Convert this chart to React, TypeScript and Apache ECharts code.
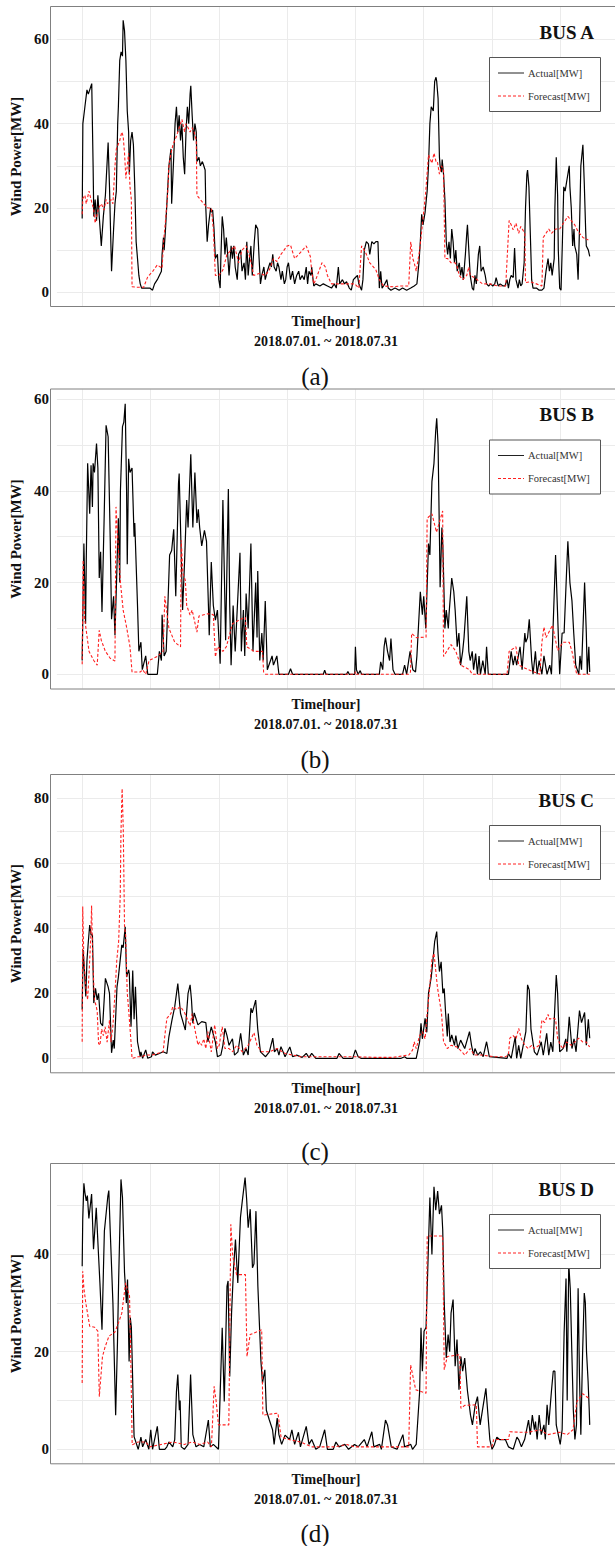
import React, { useEffect, useRef } from "react";
import * as echarts from "echarts";

const SERIF = '"Liberation Serif", "Times New Roman", Times, serif';

// [hour since 2018-07-01 00:00, MW]
const busAActual: [number, number][] = [[0,17.5],[1,40],[4,44],[7,48],[9,47],[14,49.5],[16,30],[17,18],[19,22],[21,17],[23,23],[25,18],[28,11],[31,18],[34,23],[38,35.5],[40,25],[43,5],[46,15],[48,21],[50,24],[52,40],[53,44],[55,55],[57,57],[59,56],[60,64.5],[62,62],[64,55],[66,43],[68,38],[69,28],[71,36],[73,38],[75,35],[77,25],[79,12],[83,4],[85,2],[87,1],[93,1],[99,1],[103,0.5],[106,2],[110,3],[113,4],[116,5],[117,9],[119,13],[120,10],[122,15],[125,24],[127,30],[130,34],[131,21],[134,32],[136,40],[138,44],[140,38],[142,42],[144,36],[146,40],[148,32],[150,28],[152,38],[154,44],[156,40],[158,47],[159,49],[161,42],[163,36],[165,40],[167,38],[168,31],[171,32],[173,30],[176,31],[178,30],[180,29],[181,20],[183,12],[185,16],[188,20],[189,19],[191,19.5],[193,15],[195,8],[198,9],[200,3],[202,1],[203,8],[205,18],[207,15],[209,9],[211,13],[213,9],[215,4],[218,11],[220,8],[222,11],[224,6],[227,3],[229,9],[232,10],[234,5],[237,7],[239,3],[241,12],[243,4],[245,8],[247,11],[249,4],[252,12],[254,16],[257,15],[259,8],[261,2],[263,4],[266,6],[268,3],[271,5],[275,7],[277,6],[279,9],[281,6],[284,5],[286,7],[288,6],[291,3],[293,5],[296,2],[298,3],[300,6],[302,7],[305,3],[308,5],[311,2],[314,4],[317,5],[319,3],[322,4],[325,3],[328,6],[330,2],[332,5],[335,4],[336,6],[339,1.5],[342,2],[348,1.5],[353,2],[359,1.5],[365,1],[369,2],[372,1],[375,6],[377,2],[381,3],[384,2],[387,2.5],[391,1],[394,0.5],[397,3],[400,3.5],[403,4],[405,2],[409,0.5],[411,3],[413,10],[416,12],[419,11.5],[421,9],[424,12],[427,11.5],[430,12],[433,12],[435,1],[437,5],[439,1],[443,2],[446,3],[448,1],[452,0.5],[458,1],[464,0.5],[469,1],[475,0.5],[481,1],[486,1.5],[490,2],[493,7],[495,12],[497,18.5],[499,16],[502,19],[505,24],[507,30],[509,40],[511,44],[514,43],[516,50],[518,51],[519,50],[521,46],[523,32],[524,30],[526,28.5],[527,31.5],[529,28],[531,22],[532,17],[533,12],[535,9],[537,12],[539,8],[541,15],[543,12],[545,7],[547,10],[549,5],[552,7],[554,4],[556,6],[558,3],[561,9],[563,14],[564,16],[566,10],[568,4],[571,1],[573,0.5],[575,4],[577,2],[580,9],[582,11],[584,5],[587,6],[590,4],[592,2],[595,1.5],[598,2],[601,1.5],[604,2],[606,3.5],[609,1.5],[612,2],[616,1.5],[619,1.5],[622,3],[624,1],[626,3],[628,4],[631,3.5],[633,10.5],[635,3],[638,1],[640,3],[642,1.5],[644,2],[647,7],[649,20],[651,28],[652,29],[654,25],[656,14],[658,3],[660,1],[665,1],[669,0.5],[673,0.5],[676,1],[679,5],[682,8],[684,5],[686,7],[688,4],[691,8],[692,20],[694,32],[696,23],[697,10],[699,1],[701,0.5],[703,12],[705,25],[707,24],[709,26],[711,28],[713,30],[714,25],[716,20],[718,11],[720,15],[721,11],[724,9],[726,3],[728,15],[730,30],[733,35],[735,26],[737,15],[738,11],[741,10],[743,8.5]];

const busAForecast: [number, number][] = [[0,18.5],[1,22.3],[4,23],[6,21],[10,24],[13,22],[17,19.5],[19,16.4],[24,20],[28,21],[32,19.5],[35,22],[37,21],[42,22],[45,21],[48,30],[50,34],[55,36],[58,38],[60,37],[62,33],[64,27],[66,30],[68,33],[70,25],[72,22],[73,1.3],[80,1.2],[90,1.2],[96,3.7],[103,4.9],[110,6.5],[117,5.7],[119,11.6],[122,17],[125,23],[127,30],[130,33],[133,35],[138,37],[144,40],[146,41],[150,38],[152,40],[155,39],[158,38],[161,39],[164,38],[167,36],[168,23],[173,22],[178,21],[184,20],[189,20],[192,15],[195,4],[200,4],[206,5.3],[212,9],[218,10],[223,11],[229,7],[234,10],[240,11],[246,8],[251,4],[260,4.5],[268,4],[274,5.3],[280,8],[285,7.3],[291,9],[300,11],[305,11.2],[311,8],[317,9],[328,11],[334,8.5],[336,5],[339,2],[342,3],[351,7],[356,6],[359,4],[365,2],[376,2],[387,2],[399,2],[405,1],[409,11],[413,10],[416,9],[421,7],[430,5.3],[435,3],[441,1.5],[455,1.3],[466,1.5],[478,1.5],[481,12],[484,8],[486,7],[489,5],[494,10],[498,16],[500,19],[503,24],[507,32.6],[512,30.6],[515,33],[518,31],[520,31],[523,28],[526,30],[529,29],[531,8],[535,8],[540,7],[546,7],[549,6],[552,4],[557,3],[563,4],[566,6],[568,4],[574,3.5],[586,2],[597,2],[608,1.5],[620,1.5],[625,17],[628,16],[631,14.8],[635,16.4],[639,14],[642,15.6],[648,14],[649,2.3],[656,2.5],[665,2],[673,1.5],[675,13],[679,14],[683,15],[687,14],[693,15],[699,15],[707,17],[711,18],[716,17],[721,16],[726,14.4],[733,13],[741,12.4]];

const busBActual: [number, number][] = [[0,3],[2.5,28.5],[5,11],[6,25],[8,46],[11,35],[13,45.6],[15,36.5],[16,46],[18,44],[21,50.3],[23,45],[25,21],[27,26.7],[29,13.6],[32,33],[35,54.3],[38,51.8],[41,30],[43,12],[46,17],[48,8.5],[53,34],[55,20],[56,40],[59,54],[61,55],[63,59],[65,40],[66,24],[68,47],[70,44],[73,45],[76,30],[77,33],[81,15],[83,5],[86,7],[88,1],[93,4],[96,0],[110,0],[113,5],[116,3],[117,13],[120,4],[123,5],[125,13],[128,26],[131,27],[134,31.6],[137,17],[141,41.6],[142,43.8],[145,26],[147,14],[150,25],[153,38],[155,32],[159,48],[162,32],[165,44],[168,33],[170,36],[172,32],[175,28],[179,31.4],[182,29],[185,14],[186,8.5],[189,24.5],[192,15],[195,11.8],[198,14],[202,2.3],[206,38],[210,7.4],[214,40.4],[216,15],[218,2],[221,15],[224,5],[231,26.5],[233,5],[236,14],[238,4],[240,17.6],[243,10],[247,28.5],[250,5],[254,20],[256,8],[257,22.5],[260,3],[263,9],[265,3],[268,16],[271,1],[278,4],[280,2],[285,4],[288,0],[302,0],[305,1.2],[308,0],[353,0],[355,0.9],[357,0],[387,0],[389,0.6],[391,0],[399,0],[400,6],[401.5,1],[404,0],[407,0.8],[409,0],[435,0],[437,2.7],[440,1],[442,6],[444,8],[447,5],[450,3],[452,7.8],[455,1],[458,0],[469,0],[472,2],[475,0],[480,5],[484,1],[488,0.5],[490,4],[495,18],[498,13],[500,17],[503,10],[507,28.5],[509,26],[512,42],[515,46],[517.5,53],[519,55.8],[521,50],[523,30],[524,19],[526.6,32],[528,28],[531,10],[533,14],[536,10],[537,13],[541,21],[544,18],[546,14],[549,6],[551.5,9],[554,2],[557,5],[559,8],[563,17],[566,5],[568,3],[571,5],[573,1],[576,4.5],[578.6,0],[581,4],[583,0],[586.5,3],[590,0],[592,6],[594.5,0],[624,0],[628,5],[631,2],[633.6,4],[636,2],[641,6],[644,1],[648,9],[649.4,7],[652,8],[654.5,12],[658,3],[660,0],[663.5,5],[666,0],[669,3],[673,0],[676,4],[680.5,0],[684.5,2],[687,0],[693,26],[699,0],[702.6,9],[705.5,9],[709,22],[711,29],[714,20],[717,16],[719.6,9],[722.5,2],[727,0],[728.7,4],[731,1],[735.5,20],[738,9],[739.4,0],[741.7,6],[743,0.5]];

const busBForecast: [number, number][] = [[0,2.2],[1.4,24.9],[3.6,12],[5.3,10.3],[10,5],[17,3],[22,2],[25,9.6],[28,7.4],[34,5],[41,3.5],[48,2.9],[49.5,36.5],[53,27.4],[56,20],[60,14],[65,10.3],[70,6],[73,0.5],[85,0.5],[88.5,1],[93,0],[98,3],[110,3.9],[118.5,5],[121,17],[127,10],[135.5,7],[144,6],[145,29.2],[147.4,22],[151,20.5],[153,15],[158,12.9],[161,14],[168,9.2],[171,12.7],[184,13.2],[192,13],[195,3.8],[198,6],[206,5],[211,6],[220,11],[232,12],[239,12.4],[241,6],[251.5,5],[264,5],[265.6,0.5],[268.5,0],[399,0],[400,0.6],[401,0],[478,0],[480.6,0.5],[482.3,8.9],[489,8],[503.4,8.1],[505,34],[512,35],[518.7,31],[527.7,35.6],[529,3.9],[534.5,5.2],[540,6.5],[547,5],[554,2],[567,1],[571,0],[622,0],[625,5],[635,6],[639,2],[653,1],[670,0],[673,7],[676,10.3],[679,8],[688.5,10.7],[696,5.2],[704,7],[713,7],[717,5],[721,2],[724,0],[743,0]];

const busCActual: [number, number][] = [[0,15],[1.4,33.3],[3,28],[5.3,19],[7,30],[8.7,35],[11,41],[13,38],[15,38],[17,17],[19.5,21.5],[22,18],[24,20],[27,10.8],[30,10],[34,24.6],[38,22],[40,20],[43,1.7],[45.5,5.6],[47,3],[51,22],[53,25],[58,34.9],[60,34],[63,40.5],[65,25],[68,27.2],[69,26],[71.5,9.7],[74,27],[76,12],[78,22],[81,5.1],[85,0.5],[86,2],[88.5,0],[93,2.6],[96,0],[101.5,0.5],[103,2],[107,1],[113,1.5],[118.5,2],[124,1.5],[127,6.7],[131.5,11.8],[135.5,15.9],[140,23],[144,13.8],[151,8.7],[155,20],[158,22.6],[160,18],[162,10.8],[164,14],[169.5,10.3],[175,11.3],[181,11],[184,5.1],[189,9.7],[195,5],[198,0.5],[203,1],[206,4],[209,9.2],[212,7],[215,4],[220,6],[223,1],[228,2],[232,7.7],[236,1],[240,3],[243,1],[247,15.4],[249,14],[254,17.9],[257,9],[261,2],[268.5,0.5],[274,2],[279,6.2],[281.5,2],[285.5,3],[288,1],[291,3.6],[297,0.5],[304,3.5],[308,0.5],[314,1],[322,0.3],[328,1.5],[332,0.2],[336,1.5],[342,0],[373,0],[376,1.5],[382,0],[396,0],[400,2.6],[404,0.5],[408,0],[467,0],[472,0.5],[475,0],[489,0],[494,5.1],[496,10.8],[498,6],[502,12.3],[504.5,8],[507,20],[511,25],[514,31.3],[516,35.9],[519,39],[521,32],[523,26.7],[525.5,29.7],[528,20],[530,21.5],[532,14],[534.5,6.7],[536,13.8],[538.5,5],[541,7.2],[545,4],[547,7],[550,3],[554,5.6],[560,3],[567,8.2],[570,4],[573,1],[575,3],[579,1],[583,2],[587,0.5],[592,5.1],[596,0.5],[622,0],[624,1.5],[628,0],[634,6.7],[636,0],[639,4],[642,0],[649.5,8.2],[652,22.6],[654.5,21],[657,9],[662,2],[666,1],[669,3],[672,5.1],[675,1],[680,7.7],[683,1],[686,5],[689,2],[694,25.6],[696,20],[699,2],[704,3],[708,6],[709.5,2],[713,12.8],[717,3],[720,6],[723,2],[728,14.7],[731,11],[735.5,14.1],[736.6,10],[738,4],[741,12],[743,6.2]];

const busCForecast: [number, number][] = [[0,5.1],[0.8,46.7],[2.5,30],[5.3,22],[8,18],[11,30],[12.7,38],[13.8,47],[15.5,30],[18,18],[20.6,16],[22,14.4],[24,4.6],[26,4],[28.5,9],[31,7],[33.6,9.7],[36.5,5],[40,11.8],[42,5],[45,10],[48,20],[50.6,30],[53.4,36],[55.7,50],[56.8,69.7],[58.5,83],[60.2,70],[62,40.5],[63.6,38],[66,20],[68,15],[70.4,8.2],[71.5,5],[73,0],[82,0.5],[87,0.5],[93,1],[101.5,1],[110,1.5],[118.5,2],[121,7],[124,12.3],[130,13.8],[132.6,15.9],[138,15],[144,15.9],[150,14],[154,12],[158,10],[161,13.8],[164,10],[169.5,4.1],[172,5.1],[175,4],[178,6],[181,3],[184,8.2],[189,2],[194,10.3],[198,3],[200.6,4],[205,9.7],[209,3],[215,3],[220,2],[226,4],[234.5,2],[243,4],[251.5,7.9],[256,4],[263,2],[274,2],[285.5,3],[297,1.5],[308,1],[319.5,0.5],[342,0.5],[370,0.5],[399,0.5],[427,0.3],[455,0.3],[478,1],[483.6,2.5],[486,5.1],[489,3],[494,7],[498,8.2],[502,6],[505,13.8],[508,20],[512,30.3],[515,32.3],[517.6,27],[520,22],[523,17.9],[526,14],[529,5.1],[532,4],[534.5,3],[540,4],[548.7,3.5],[556,2],[560,1],[568,3],[574,1],[585.5,1],[602.5,0.5],[619.5,0.5],[624,1],[626,6.2],[631,7],[635,6],[639,9.2],[643,6],[648,4],[653,3],[658,4],[662,3],[669,4],[673,11.8],[677,11],[682,13.5],[684.5,12],[688.5,12.5],[693,12],[696,6.2],[700,4],[704,3],[709,5],[716,4],[721,5],[727,6.2],[733,5],[738,5],[741,4],[743,3.5]];

const busDActual: [number, number][] = [[0,37.5],[0.8,47],[2.5,54.5],[4,52.6],[6,50.9],[7.6,52],[9.8,47.3],[13.8,52.3],[16.6,41],[20.6,49.5],[24,39.6],[26,34],[29,24.5],[32.5,44.7],[37.6,51.9],[39,53],[41,45],[45,30],[49,7],[51.7,22.1],[53.4,34.8],[56.8,55.3],[59,51.6],[62,36.2],[64.7,30],[66.4,34.8],[68.7,18],[70.4,27],[72,25],[76,2.6],[82,0],[86,2.5],[88.5,0.5],[93,2],[97.6,0],[100.4,4],[103,0],[110,4.7],[113,0],[121,0],[124,0.5],[127,1.5],[132.6,0.5],[135.5,2],[138,11.8],[140,15.3],[142.3,8],[143.4,10],[145,0.5],[149.6,0],[155,1],[158.7,15.3],[162,3],[166.6,0.5],[172,1],[178,0.5],[184.7,6],[187.6,0.5],[192,1],[199.5,0],[205,24.9],[208,9.8],[212,33.4],[213.6,34.5],[216,14.9],[218.7,28],[221.5,36.8],[224.4,43],[227.8,34.1],[231.7,47.5],[234.5,51],[238.5,55.7],[240.8,51.2],[243,45.4],[246,49.2],[249.3,37.2],[251.5,38],[254.4,48.8],[257.2,33.4],[261.7,18],[264,13.6],[267.4,16.3],[269.6,8],[274,6],[278.7,4],[281,1],[285.5,6.4],[288,3],[292,1],[297,2.9],[303.6,2],[307,4],[311,1],[316.6,3.5],[319.5,0.5],[328,4.7],[332,1],[336,2],[342,0],[347.7,0.5],[355,4],[359,0],[367.5,0],[371.5,1.5],[376,0.5],[384.5,1],[390,0],[398.7,1],[404,0.5],[413,2],[417,0.5],[424,3.6],[427,0.5],[435.5,1],[438,0],[444,6],[447,5],[452.5,0.5],[461,0],[469.5,3],[472,0.5],[481,1],[483.6,0],[489,1],[494,11.8],[496,24.9],[498,16],[500.5,24.2],[503.4,25],[509,51.6],[512,39.9],[515,53.8],[517.6,49],[520.4,52.9],[523,48.2],[526,50],[527.8,45],[530,30],[533,18.7],[535.7,23.5],[538,20],[540,27.9],[543,30.7],[546,17],[548.7,22.5],[551.6,12.2],[554.4,19],[557,16],[560,18.7],[564,12],[568.5,7],[571.3,5],[575.3,9],[578.7,10.8],[582.6,5],[591,12.5],[596.8,2],[600,0],[603.6,1],[607,2.5],[611,2],[619.5,2],[624,0.5],[631,0],[636.4,2.5],[639,2],[643,0.5],[647.7,2],[650.6,4],[653.4,6],[656,3],[659,7],[662,4],[663.6,5.7],[666,2],[669,7],[672,3],[676,5],[678,2],[680.6,9.1],[683,5],[687,12],[689.6,16],[692,16],[694,5],[699.8,1],[702.6,4],[705.5,23.8],[708.3,35],[710,10],[712.3,38],[714.5,33],[716.8,20],[719,8],[721.3,2],[723.6,5],[726,33],[728,15],[730,3],[732.6,20],[735,32],[736.6,30],[738.3,20],[740.6,14],[742.3,8],[743,5]];

const busDForecast: [number, number][] = [[0,13.6],[0.8,36.5],[2.5,33],[5.3,30],[11,25.2],[18.3,25],[22.9,24.2],[25.1,10.8],[29.7,19],[33.6,21],[39.3,23.2],[47.8,24],[53.4,26],[58,27.9],[63.6,34.1],[69.3,31.4],[71,20],[73.2,0.9],[81.7,1.5],[93,1.5],[98.8,0.5],[115.7,1],[132.6,1.5],[149.6,1],[161,1.5],[172.3,1],[183.6,1.5],[189.2,0.5],[193.2,12.9],[196,10],[199.5,5],[214.7,5],[217.6,46.1],[220.4,39.6],[226,35.8],[239,35.8],[241.3,19],[245.9,23.5],[262.8,24.5],[264.5,7],[286.6,7.4],[291.1,2.5],[302.4,2],[319.5,1.5],[336.4,0.5],[370.4,0.5],[387.4,1],[398.7,0.5],[427,0.5],[455.3,0.5],[478,0.5],[480.8,17.3],[488.2,12.2],[503.4,11.5],[505.1,43.7],[527.8,43.7],[530,16.3],[534.5,19],[552.8,19.4],[554.4,8.4],[560,9],[577,9.1],[578.7,0.5],[599.7,0.5],[602.5,2],[624,2],[626.2,3.6],[639.3,3.5],[653.4,3.5],[670.4,4],[681.7,3],[698.7,3.5],[710,3],[718.5,4],[724.2,9.8],[732.6,11.4],[741.2,10.5]];

const busTitles = ["BUS A", "BUS B", "BUS C", "BUS D"];
const captions = ["(a)", "(b)", "(c)", "(d)"];
const legendNames = ["Actual[MW]", "Forecast[MW]"];
const yAxisTitle = "Wind Power[MW]";
const xAxisTitle = "Time[hour]";
const periodLabel = "2018.07.01. ~ 2018.07.31";
const actualSeries = [busAActual, busBActual, busCActual, busDActual];
const forecastSeries = [busAForecast, busBForecast, busCForecast, busDForecast];
const xRange = [-37, 780];
const yRanges = [[-3.25, 67.66], [-3.1, 62.1], [-4.3, 87.17], [-2.87, 58.46]];

// layout (px)
const panelLayout = [
  { top: 7, height: 299, caption: 376.7 },
  { top: 389.5, height: 299, caption: 759 },
  { top: 775, height: 297.3, caption: 1151 },
  { top: 1164, height: 299.3, caption: 1533 },
];
const PLOT_LEFT = 51;
const PLOT_WIDTH = 566;
const TEXT_CX = 326;

export default function App() {
  const ref = useRef<HTMLDivElement>(null);
  useEffect(() => {
    if (!ref.current) return;
    const chart = echarts.init(ref.current, undefined, { renderer: "svg" });
    const grids: any[] = [];
    const xAxes: any[] = [];
    const yAxes: any[] = [];
    const series: any[] = [];
    const graphics: any[] = [];
    panelLayout.forEach((p, i) => {
      const bottom = p.top + p.height;
      grids.push({ left: PLOT_LEFT, top: p.top, width: PLOT_WIDTH, height: p.height, show: false, containLabel: false });
      xAxes.push({
        type: "value", gridIndex: i, min: xRange[0], max: xRange[1], minInterval: 100, maxInterval: 100,
        axisLine: { show: false }, axisTick: { show: false }, axisLabel: { show: false },
        splitLine: { show: true, showMinLine: false, showMaxLine: false, lineStyle: { color: "#ebebeb", width: 1 } },
      });
      yAxes.push({
        type: "value", gridIndex: i, min: yRanges[i][0], max: yRanges[i][1], minInterval: 10, maxInterval: 10,
        axisLine: { show: false }, axisTick: { show: false },
        axisLabel: {
          show: true, margin: 8, color: "#111", fontFamily: SERIF, fontWeight: "bold", fontSize: 15,
          showMinLabel: false, showMaxLabel: false,
          formatter: (v: number) => (Math.abs(v % 20) < 1e-6 ? String(Math.round(v)) : ""),
        },
        splitLine: { show: true, showMinLine: false, showMaxLine: false, lineStyle: { color: "#ebebeb", width: 1 } },
        name: yAxisTitle, nameLocation: "middle", nameGap: 25, nameRotate: 90,
        nameTextStyle: { fontFamily: SERIF, fontWeight: "bold", fontSize: 15, color: "#111" },
      });
      series.push({
        name: legendNames[0], type: "line", xAxisIndex: i, yAxisIndex: i, data: actualSeries[i],
        showSymbol: false, symbol: "none", lineStyle: { color: "#000", width: 1.2 }, z: 2,
      });
      series.push({
        name: legendNames[1], type: "line", xAxisIndex: i, yAxisIndex: i, data: forecastSeries[i],
        showSymbol: false, symbol: "none", lineStyle: { color: "#ff2020", width: 1.1, type: [3, 2] }, z: 3,
      });
      // frame: left, top and bottom edges only (the right edge lies beyond the page)
      graphics.push({ type: "polyline", z: 50, shape: { points: [[640, p.top - 0.5], [PLOT_LEFT - 0.5, p.top - 0.5], [PLOT_LEFT - 0.5, bottom + 0.5], [640, bottom + 0.5]] }, style: { fill: "none", stroke: "#808080", lineWidth: 1 } });
      // title
      graphics.push({ type: "text", z: 60, x: 594, y: p.top + 25, style: { text: busTitles[i], font: `bold 19px ${SERIF}`, fill: "#111", align: "right", verticalAlign: "middle", textAlign: "right", textVerticalAlign: "middle" } });
      // legend
      const ly = p.top + 50;
      graphics.push({ type: "rect", z: 60, shape: { x: 489.5, y: ly + 0.5, width: 111, height: 54 }, style: { fill: "#ffffff", stroke: "#555", lineWidth: 1 } });
      graphics.push({ type: "line", z: 61, shape: { x1: 498, y1: ly + 16, x2: 524, y2: ly + 16 }, style: { stroke: "#222", lineWidth: 1 } });
      graphics.push({ type: "line", z: 61, shape: { x1: 498, y1: ly + 39, x2: 524, y2: ly + 39 }, style: { stroke: "#ff2020", lineWidth: 1, lineDash: [3, 2] } });
      graphics.push({ type: "text", z: 61, x: 528, y: ly + 16, style: { text: legendNames[0], font: `10.5px ${SERIF}`, fill: "#333", verticalAlign: "middle", textVerticalAlign: "middle" } });
      graphics.push({ type: "text", z: 61, x: 528, y: ly + 39, style: { text: legendNames[1], font: `10.5px ${SERIF}`, fill: "#333", verticalAlign: "middle", textVerticalAlign: "middle" } });
      // x titles
      graphics.push({ type: "text", z: 60, x: TEXT_CX, y: bottom + 15.7, style: { text: xAxisTitle, font: `bold 14px ${SERIF}`, fill: "#111", align: "center", verticalAlign: "middle", textAlign: "center", textVerticalAlign: "middle" } });
      graphics.push({ type: "text", z: 60, x: TEXT_CX, y: bottom + 35.7, style: { text: periodLabel, font: `bold 14px ${SERIF}`, fill: "#111", align: "center", verticalAlign: "middle", textAlign: "center", textVerticalAlign: "middle" } });
      graphics.push({ type: "text", z: 60, x: 315, y: p.caption, style: { text: captions[i], font: `25px ${SERIF}`, fill: "#111", align: "center", verticalAlign: "middle", textAlign: "center", textVerticalAlign: "middle" } });
    });
    chart.setOption({
      animation: false,
      backgroundColor: "#ffffff",
      grid: grids,
      xAxis: xAxes,
      yAxis: yAxes,
      series,
      graphic: { elements: graphics },
    });
    return () => chart.dispose();
  }, []);
  return <div ref={ref} style={{ position: "fixed", left: 0, top: 0, width: 615, height: 1546 }} />;
}
